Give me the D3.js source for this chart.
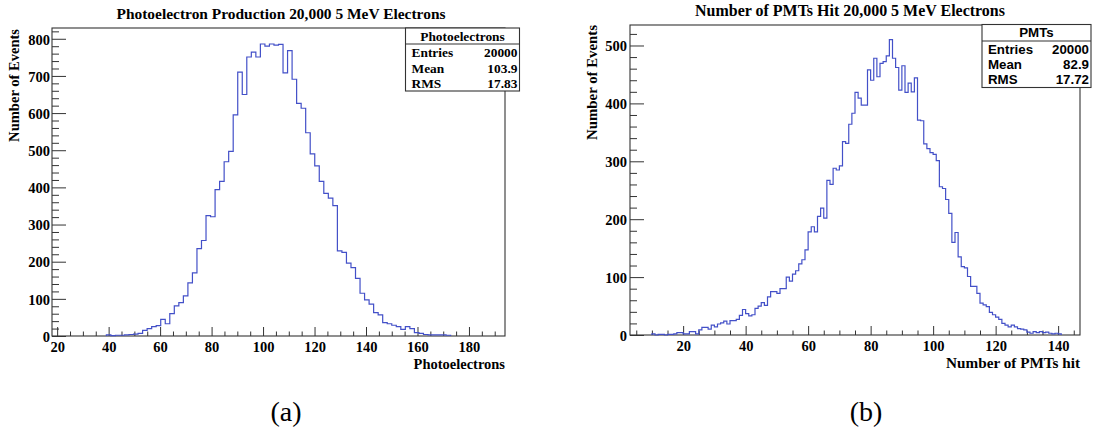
<!DOCTYPE html>
<html><head><meta charset="utf-8">
<script src="https://cdn.jsdelivr.net/npm/d3@7"></script>
<style>body{margin:0;background:#fff;} svg{display:block;}</style>
</head><body>
<svg id="c" width="1096" height="429"></svg>
<script>
// ---------------- data ----------------
const peRange = [18, 194];           // histogram range, 100 bins
const peCounts = [
  0,0,0,0,0,0,0,0,0,0, 0,0,3,1,2,2,3,4,5,7,
  15,20,25,28,45,33,60,81,90,108, 143,170,235,257,324,321,394,416,469,497,
  595,710,650,751,764,751,786,780,786,783, 785,708,768,691,626,613,547,490,458,416,
  384,371,351,229,225,196,184,155,115,97, 86,63,57,36,33,29,25,18,25,20,
  9,7,4,3,3,3,3,2,0,0, 0,0,0,0,0,0,0,0,0,0
];
const pmtRange = [3, 147];           // histogram range, 144 bins
const pmtCounts = [
  0,0,0,0,0,0,0,
  2,0,1,1,0,1,1,2,4,4, 2,2,6,6,2,9,13,13,10,17,
  14,19,21,24,19,25,25,27,34,44, 37,33,35,46,50,56,51,66,75,75,
  72,80,80,100,93,105,111,123,130,147, 178,187,178,205,219,202,267,260,288,285,
  292,334,331,364,383,419,409,397,397,458, 440,478,446,469,472,482,510,478,462,423,
  465,419,435,420,444,371,370,330,322,315, 312,301,256,253,234,210,160,177,135,118,
  116,101,84,84,72,55,52,49,39,35, 31,27,20,17,14,17,14,11,10,9,
  5,3,6,4,6,4,5,3,2,3, 2,
  0,0,0,0,0,0
];
const peXMajor = [20,40,60,80,100,120,140,160,180];
const pmtXMajor = [20,40,60,80,100,120,140];
const peYMajor = [0,100,200,300,400,500,600,700,800];
const pmtYMajor = [0,100,200,300,400,500];
const peStats = [["Entries","20000"],["Mean","103.9"],["RMS","17.83"]];
const pmtStats = [["Entries","20000"],["Mean","82.9"],["RMS","17.72"]];
const peTitle = "Photoelectron Production 20,000 5 MeV Electrons";
const pmtTitle = "Number of PMTs Hit 20,000 5 MeV Electrons";

// ---------------- drawing ----------------
const svg = d3.select("#c");
svg.append("rect").attr("width",1096).attr("height",429).attr("fill","#fff");
const SERIF = "'Liberation Serif','Times New Roman',serif";
const SANS = "'Liberation Sans',Arial,sans-serif";
const AX = "#333";
const HIST = "#4350c8";

function fitText(sel, target){
  const fs = parseFloat(sel.attr("font-size"));
  const len = sel.node().getComputedTextLength();
  if (len>0) sel.attr("font-size", (fs*target/len).toFixed(2));
  return sel;
}

function drawPanel(p){
  const g = svg.append("g");
  const x = d3.scaleLinear().domain(p.xDomain).range([p.left, p.right]);
  const y = d3.scaleLinear().domain([0, p.yMax]).range([p.bottom, p.top]);
  const n = p.counts.length;
  const w = (p.xDomain[1]-p.xDomain[0])/n;

  // frame
  g.append("rect").attr("x",p.left).attr("y",p.top)
    .attr("width",p.right-p.left).attr("height",p.bottom-p.top)
    .attr("fill","none").attr("stroke",AX).attr("stroke-width",1.1);

  // x axis major + minor
  const minorX = d3.range(p.minorStart, p.xDomain[1], 5).filter(v=>!p.xMajor.includes(v));
  const gxm = g.append("g").attr("transform",`translate(0,${p.bottom})`)
    .call(d3.axisBottom(x).tickValues(minorX).tickSizeInner(-4.5).tickSizeOuter(0).tickFormat(""));
  gxm.select(".domain").remove();
  const gx = g.append("g").attr("transform",`translate(0,${p.bottom})`)
    .call(d3.axisBottom(x).tickValues(p.xMajor).tickSizeInner(-9).tickSizeOuter(0).tickFormat(d3.format("d")));
  gx.select(".domain").remove();
  gx.selectAll("text").attr("y", p.xLabBase - p.bottom).attr("dy",0)
    .attr("font-family",SERIF).attr("font-weight","bold").attr("font-size",14.5).attr("fill","#000");
  g.selectAll(".tick line").attr("stroke",AX);

  // y axis major + minor
  const minorY = d3.range(0, p.yMax, 20).filter(v=>!p.yMajor.includes(v));
  const gym = g.append("g").attr("transform",`translate(${p.left},0)`)
    .call(d3.axisLeft(y).tickValues(minorY).tickSizeInner(-7).tickSizeOuter(0).tickFormat(""));
  gym.select(".domain").remove();
  const gy = g.append("g").attr("transform",`translate(${p.left},0)`)
    .call(d3.axisLeft(y).tickValues(p.yMajor).tickSizeInner(-14).tickSizeOuter(0).tickPadding(p.yPad).tickFormat(d3.format("d")));
  gy.select(".domain").remove();
  gy.selectAll("text").attr("dy","0.36em")
    .attr("font-family",SERIF).attr("font-weight","bold").attr("font-size",14.5).attr("fill","#000");
  g.selectAll(".tick line").attr("stroke",AX).attr("stroke-width",1);

  // histogram outline
  let first = p.counts.findIndex(v=>v>0);
  let last = n-1-[...p.counts].reverse().findIndex(v=>v>0);
  const pts = [[x(p.xDomain[0]+first*w), y(0)]];
  for(let i=first;i<=last;i++){
    const x0 = x(p.xDomain[0]+i*w), x1 = x(p.xDomain[0]+(i+1)*w);
    pts.push([x0,y(p.counts[i])],[x1,y(p.counts[i])]);
  }
  pts.push([x(p.xDomain[0]+(last+1)*w), y(0)]);
  g.append("path").attr("d", d3.line()(pts)).attr("fill","none")
    .attr("stroke",HIST).attr("stroke-width",1.2).attr("stroke-linejoin","miter");

  // title
  const t = g.append("text").attr("x",p.titleX).attr("y",p.titleBase).attr("text-anchor","middle")
    .attr("font-family",SERIF).attr("font-weight","bold").attr("font-size",15).text(p.title);
  fitText(t, p.titleW);

  // x-axis title
  const xt = g.append("text").attr("x",p.right).attr("y",p.xTitleBase).attr("text-anchor","end")
    .attr("font-family",SERIF).attr("font-weight","bold").attr("font-size",14.5).text(p.xTitle);
  fitText(xt, p.xTitleW);

  // y-axis title
  const yt = g.append("text").attr("transform",`translate(${p.yTitleX},${p.yTitleTop}) rotate(-90)`)
    .attr("text-anchor","end")
    .attr("font-family",SERIF).attr("font-weight","bold").attr("font-size",14.5).text("Number of Events");
  fitText(yt, p.yTitleW);

  // stats box
  const b = p.box;
  g.append("rect").attr("x",b.x0).attr("y",b.y0).attr("width",b.x1-b.x0).attr("height",b.y1-b.y0)
    .attr("fill","#fff").attr("stroke",AX).attr("stroke-width",1.1);
  g.append("line").attr("x1",b.x0).attr("x2",b.x1).attr("y1",b.yHead).attr("y2",b.yHead)
    .attr("stroke",AX).attr("stroke-width",1.1);
  g.append("text").attr("x",(b.x0+b.x1)/2).attr("y",(b.y0+b.yHead)/2).attr("dominant-baseline","central")
    .attr("text-anchor","middle").attr("font-family",b.font).attr("font-weight","bold")
    .attr("font-size",b.fs).text(p.statsName);
  p.stats.forEach((r,i)=>{
    g.append("text").attr("x",b.x0+b.padL).attr("y",b.rows[i]).attr("dominant-baseline","central")
      .attr("font-family",b.font).attr("font-weight","bold").attr("font-size",b.fs).text(r[0]);
    g.append("text").attr("x",b.x1-b.padR).attr("y",b.rows[i]).attr("dominant-baseline","central")
      .attr("text-anchor","end").attr("font-family",b.font).attr("font-weight","bold").attr("font-size",b.fs).text(r[1]);
  });

  // caption
  svg.append("text").attr("x",p.capX).attr("y",421).attr("text-anchor","middle")
    .attr("font-family",SERIF).attr("font-size",28).text(p.caption);
}

drawPanel({
  xDomain: peRange, counts: peCounts, yMax: 829,
  left: 52, right: 505, top: 28, bottom: 336,
  xMajor: peXMajor, yMajor: peYMajor, minorStart: 20, yPad: 2,
  xLabBase: 351.5,
  title: peTitle, titleX: 281, titleBase: 19, titleW: 329,
  xTitle: "Photoelectrons", xTitleBase: 369, xTitleW: 91.5,
  yTitleX: 19, yTitleTop: 29, yTitleW: 113,
  statsName: "Photoelectrons", stats: peStats,
  box: {x0:405.5, x1:519.5, y0:28, yHead:44, y1:91, rows:[52.5,68,83], font:SERIF, fs:13.4, padL:6, padR:2},
  caption: "(a)", capX: 286
});

drawPanel({
  xDomain: pmtRange, counts: pmtCounts, yMax: 535.4,
  left: 630, right: 1080, top: 25, bottom: 335,
  xMajor: pmtXMajor, yMajor: pmtYMajor, minorStart: 5, yPad: 3,
  xLabBase: 350.5,
  title: pmtTitle, titleX: 850, titleBase: 15.5, titleW: 310,
  xTitle: "Number of PMTs hit", xTitleBase: 368, xTitleW: 134,
  yTitleX: 597, yTitleTop: 25, yTitleW: 115,
  statsName: "PMTs", stats: pmtStats,
  box: {x0:982, x1:1091, y0:24.5, yHead:41, y1:87.5, rows:[49,64.5,79.5], font:SANS, fs:13.3, padL:6, padR:2},
  caption: "(b)", capX: 866
});
</script>
</body></html>
